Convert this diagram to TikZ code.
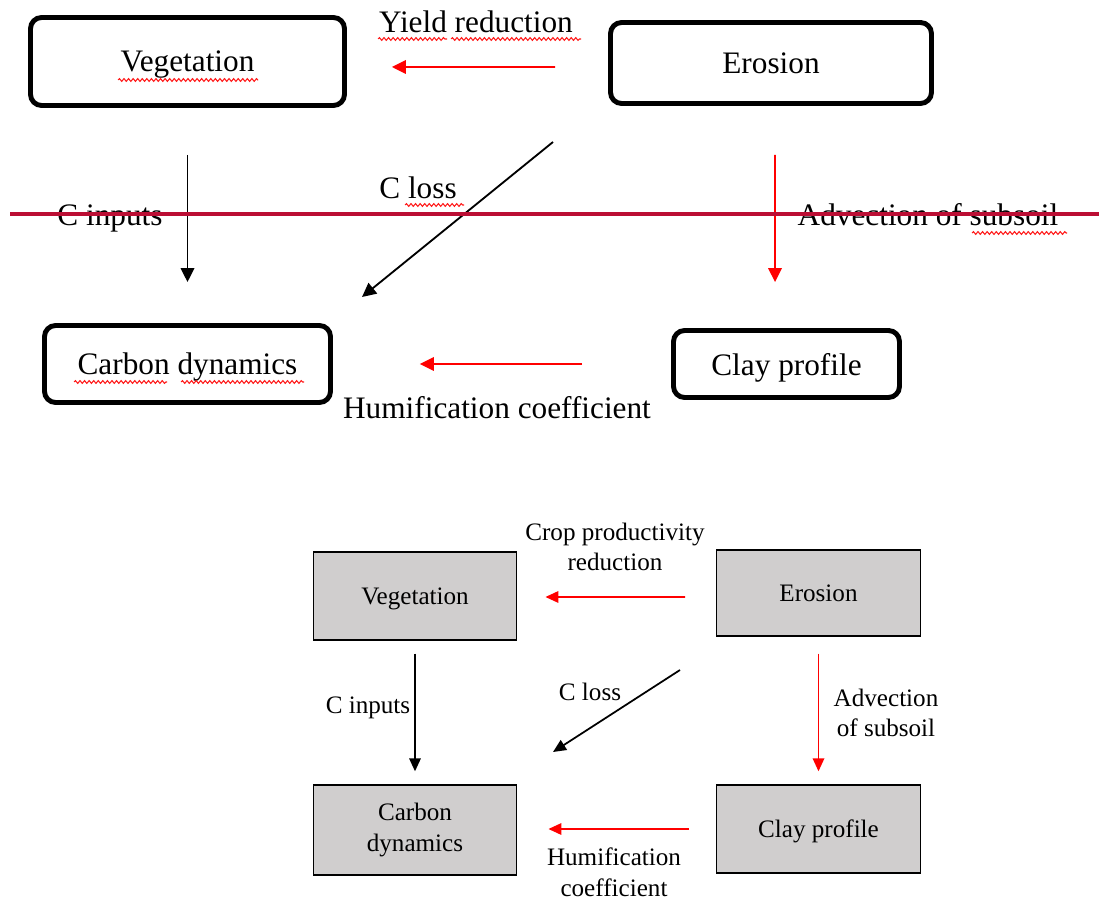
\documentclass[tikz,border=0pt]{standalone}
\usepackage{fontspec}
\setmainfont{Liberation Serif}
\usetikzlibrary{arrows.meta, decorations.pathmorphing}

\definecolor{strikered}{RGB}{187,14,52}
\definecolor{boxgray}{RGB}{208,206,206}

\begin{document}
\begin{tikzpicture}[
    x=0.02cm, y=-0.02cm,
    oldbox/.style={rectangle, draw, line width=2.8pt, rounded corners=0.22cm,
    align=center, inner sep=0pt, text depth=0pt, font=\fontsize{17.8}{21}\selectfont},
    newbox/.style={rectangle, draw, line width=0.8pt, fill=boxgray,
    minimum width=4.07cm, align=center, inner sep=0pt,
    font=\fontsize{14.3}{17.5}\selectfont},
    oldlabel/.style={inner sep=0pt, font=\fontsize{17.8}{21}\selectfont},
    newlabel/.style={inner sep=0pt, align=center, font=\fontsize{14.3}{17.5}\selectfont},
    oldarrow/.style={-{Triangle[length=0.28cm, width=0.27cm]}, line width=1.05pt},
    newarrow/.style={-{Triangle[length=0.26cm, width=0.23cm]}, line width=1pt},
    spellmark/.style={red!90, line width=0.6pt, decorate,
    decoration={snake, amplitude=0.8pt, segment length=2.6pt}}
]
\useasboundingbox (0,0) rectangle (1099,908);

% ---------------- FIRST VERSION ----------------
\node[oldbox, minimum width=6.28cm, minimum height=1.76cm] (veg1) at (187.5,61.5) {Vegetation};
\node[oldbox, minimum width=6.42cm, minimum height=1.62cm] (ero1) at (771,63) {Erosion};
\node[oldbox, minimum width=5.72cm, minimum height=1.54cm] (carb1) at (187.5,364) {Carbon dynamics};
\node[oldbox, minimum width=4.52cm, minimum height=1.34cm] (clay1) at (786.5,364) {Clay profile};

\coordinate (loss1a) at (553,142);
\coordinate (loss1b) at (362,297);

\draw[oldarrow, red, shorten <=1.06cm, shorten >=0.9cm]
([yshift=-0.08cm]ero1.west) -- ([yshift=-0.11cm]veg1.east);
\draw[oldarrow, shorten <=0.94cm, shorten >=0.82cm] (veg1.south) -- (carb1.north);
\draw[oldarrow] (loss1a) -- (loss1b);
\draw[oldarrow, red, shorten <=0.98cm, shorten >=0.92cm]
([xshift=0.08cm]ero1.south) -- ([xshift=-0.23cm]clay1.north);
\draw[oldarrow, red, shorten <=1.78cm, shorten >=1.74cm] (clay1.west) -- (carb1.east);

% Labels
\node[oldlabel] (yield1) at (476,22) {Yield reduction};
\node[oldlabel] (cin1) at (110,218) {C inputs};
\node[oldlabel] (closs1) at (418,188) {C loss};
\node[oldlabel] (adv1) at (928,215) {Advection of subsoil};
\node[oldlabel] (hum1) at (497,408) {Humification coefficient};

% spelling marks
\draw[spellmark] (118,80) -- (258,80);
\draw[spellmark] (378,39) -- (447,39);
\draw[spellmark] (451,39) -- (581,39);
\draw[spellmark] (405,205) -- (464,205);
\draw[spellmark] (972,233) -- (1067,233);
\draw[spellmark] (74,382) -- (167,382);
\draw[spellmark] (181,382) -- (304,382);

% strike line
\draw[strikered, line width=2.6pt] (10,214) -- (1099,214);

% ---------------- SECOND VERSION ----------------
\node[newbox, minimum height=1.76cm, text depth=0pt] (veg2) at (415,596) {Vegetation};
\node[newbox, minimum height=1.72cm] (ero2) at (818.5,593) {Erosion};
\node[newbox, minimum height=1.8cm] (carb2) at (415,830) {Carbon\\dynamics};
\node[newbox, minimum height=1.76cm, text depth=0pt] (clay2) at (818.5,829) {Clay profile};

\coordinate (loss2a) at (680,670);
\coordinate (loss2b) at (553,752);

\draw[newarrow, red, shorten <=0.62cm, shorten >=0.56cm]
([yshift=-0.08cm]ero2.west) -- ([yshift=-0.02cm]veg2.east);
\draw[newarrow, shorten <=0.26cm, shorten >=0.26cm] (veg2.south) -- (carb2.north);
\draw[newarrow] (loss2a) -- (loss2b);
\draw[newarrow, red, shorten <=0.34cm, shorten >=0.26cm] (ero2.south) -- (clay2.north);
\draw[newarrow, red, shorten <=0.54cm, shorten >=0.62cm]
(clay2.west) -- ([yshift=0.02cm]carb2.east);

% Labels
\node[newlabel] (crop2) at (615,547) {Crop productivity\\reduction};
\node[newlabel] (cin2) at (368,708) {C inputs};
\node[newlabel] (closs2) at (590,692) {C loss};
\node[newlabel] (adv2) at (886,713) {Advection\\of subsoil};
\node[newlabel] (hum2) at (614,872) {Humification\\coefficient};

\end{tikzpicture}
\end{document}
